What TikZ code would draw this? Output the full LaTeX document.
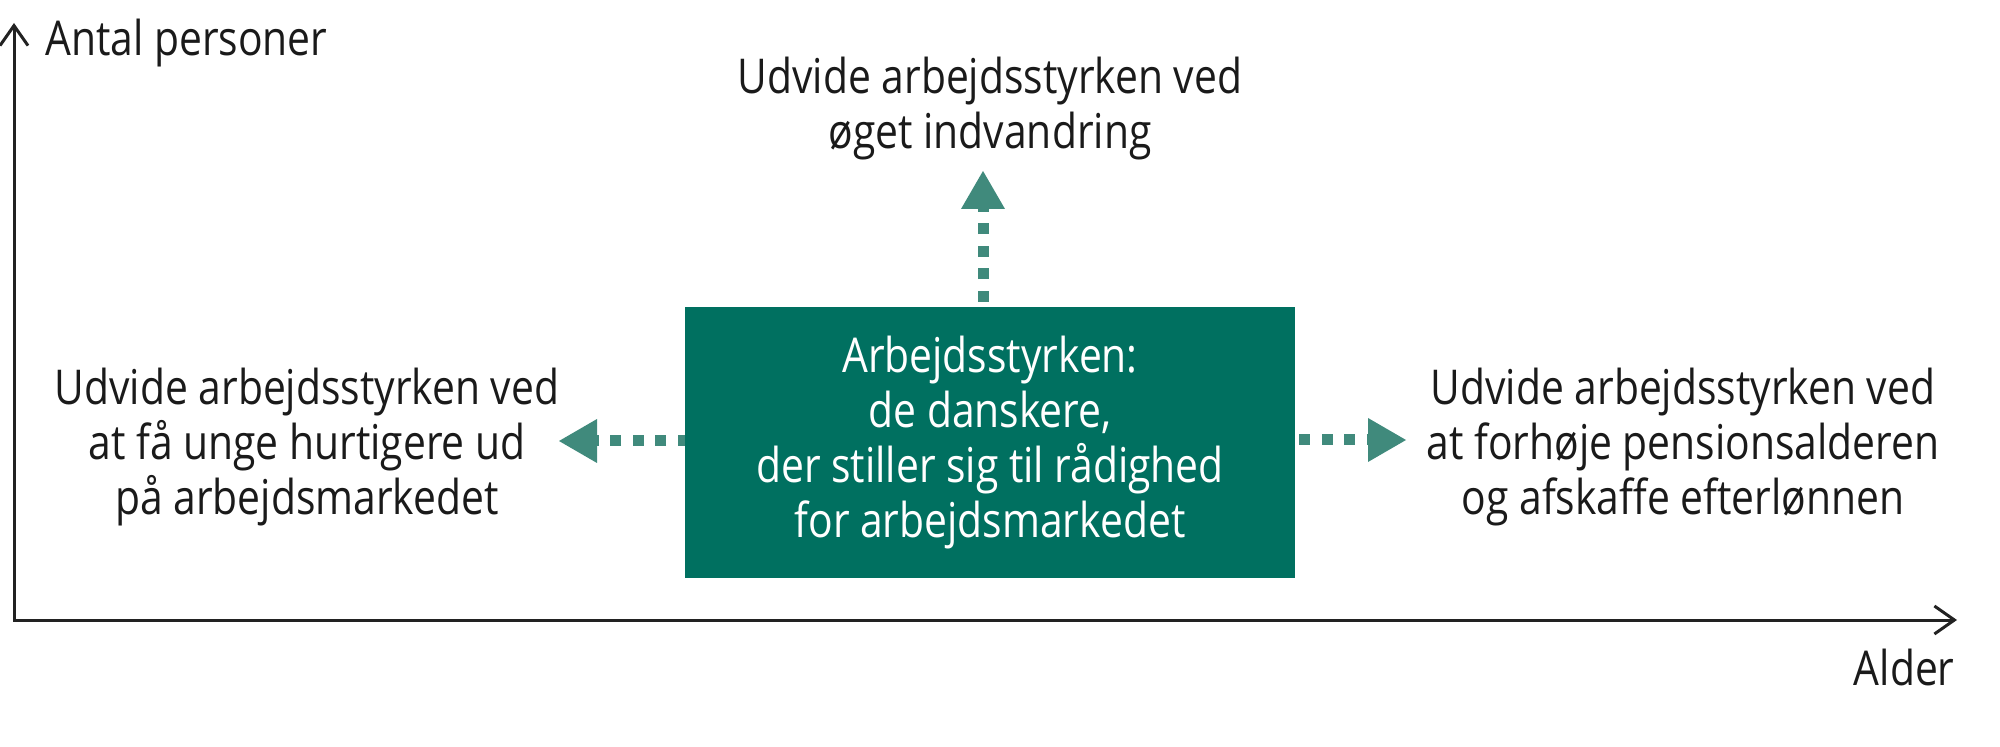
\documentclass[tikz,border=0pt]{standalone}
\usepackage{fontspec}
\setmainfont{Open Sans}[FakeStretch=0.85]
\usetikzlibrary{arrows.meta}
\definecolor{boxgreen}{HTML}{007060}
\definecolor{arrowgreen}{HTML}{408A7C}
\definecolor{textdark}{HTML}{1A1A1A}
\definecolor{axisdark}{HTML}{222222}
\tikzset{
  lbl/.style={inner sep=0pt, align=center, text=textdark, font=\fontsize{24}{27.5}\selectfont},
  mainbox/.style={fill=boxgreen, draw=none, inner sep=0pt, minimum width=305pt, minimum height=135.5pt,
    align=center, text=white, font=\fontsize{24}{27.5}\selectfont},
  conn/.style={draw=arrowgreen, line width=5.5pt, dash pattern=on 5.5pt off 5.75pt,
    -{Triangle[length=19pt, width=22pt, line width=0pt]}},
  axis/.style={draw=axisdark, line width=1.5pt, {Straight Barb[length=10pt,width=14pt]}-{Straight Barb[length=10pt,width=14pt]}}
}
\begin{document}
\begin{tikzpicture}[x=0.5pt, y=-0.5pt]
\useasboundingbox (0,0) rectangle (2000,747);
% axes
\coordinate (ytip) at (14,23);
\coordinate (origin) at (14,620);
\coordinate (xtip) at (1957,620);
\draw[axis] (ytip) -- (origin) -- (xtip);
\node[lbl, anchor=base west] (ylab) at (45,56) {Antal personer};
\node[lbl, anchor=base east] (xlab) at (1955,685) {Alder};
% central box
\node[mainbox] (box) at (990,442.5) {Arbejdsstyrken:\\de danskere,\\der stiller sig til rådighed\\for arbejdsmarkedet};
% texts (base anchor = baseline of the last line)
\node[lbl, anchor=base] (top) at (990,149) {Udvide arbejdsstyrken ved\\øget indvandring};
\node[lbl, anchor=base] (left) at (307,515) {Udvide arbejdsstyrken ved\\at få unge hurtigere ud\\på arbejdsmarkedet};
\node[lbl, anchor=base] (right) at (1683,515) {Udvide arbejdsstyrken ved\\at forhøje pensionsalderen\\og afskaffe efterlønnen};
% connectors
\coordinate (tipU) at (983,171);
\coordinate (tipL) at (559,441);
\coordinate (tipR) at (1406,440);
\draw[conn, dash phase=8.75pt] (box.north -| tipU) -- (tipU);
\draw[conn, dash phase=2pt] (box.west |- tipL) -- (tipL);
\draw[conn, dash phase=9.25pt] (box.east |- tipR) -- (tipR);
\end{tikzpicture}
\end{document}
